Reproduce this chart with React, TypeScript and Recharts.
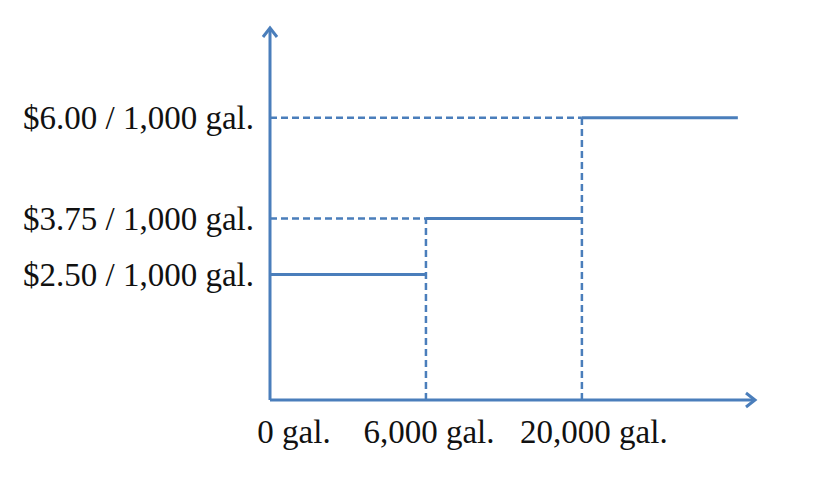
import React from "react";
import { LineChart, Line, XAxis, YAxis, ReferenceLine } from "recharts";

// Tier breakpoints (drawn as evenly spaced positions, like the schematic)
const usageLabels = ["0 gal.", "6,000 gal.", "20,000 gal."];
const tierStart = [0, 1, 2];
const tierEnd = [1, 2, 3];
const rates = [2.5, 3.75, 6.0];
const rateLabels = ["$2.50 / 1,000 gal.", "$3.75 / 1,000 gal.", "$6.00 / 1,000 gal."];

const BLUE = "#4a7ebb";
const FONT = "'Liberation Serif', 'Times New Roman', serif";
const Y_DOMAIN = [-0.3, 8];
// horizontal nudge for each x label (the original labels sit in a text box, not centred on the ticks)
const LABEL_SHIFT = [24, 3, 12];

function UsageTick(props: any) {
  const { x, y, payload, index } = props;
  return (
    <text
      x={x + (LABEL_SHIFT[index] ?? 0)}
      y={y}
      dy="0.71em"
      textAnchor="middle"
      fontSize={33}
      fontFamily={FONT}
      fill="#111"
    >
      {usageLabels[payload.value] ?? ""}
    </text>
  );
}

export default function App() {
  const yTick = { fontSize: 33, fill: "#111", fontFamily: FONT };
  const dashed = { stroke: BLUE, strokeWidth: 2.5, strokeDasharray: "7 4" };

  return (
    <div style={{ position: "absolute", left: 0, top: 0, width: 814, height: 480, background: "#fff" }}>
      <style>{"body{margin:0}"}</style>
      {/* arrowhead used by both axis lines */}
      <svg width={0} height={0} style={{ position: "absolute" }}>
        <defs>
          <marker
            id="axisArrow"
            viewBox="0 0 20 20"
            refX={14}
            refY={10}
            markerWidth={20}
            markerHeight={20}
            markerUnits="userSpaceOnUse"
            orient="auto-start-reverse"
          >
            <path d="M5,3 L14,10 L5,17" fill="none" stroke={BLUE} strokeWidth={3} strokeLinejoin="miter" />
          </marker>
        </defs>
      </svg>
      <LineChart width={814} height={480} margin={{ top: 28, right: 59, bottom: 0, left: 0 }}>
        <XAxis
          dataKey="x"
          type="number"
          domain={[0, 3.11]}
          ticks={tierStart}
          axisLine={{ stroke: BLUE, strokeWidth: 3, markerEnd: "url(#axisArrow)" }}
          tickLine={false}
          tickSize={0}
          tickMargin={20}
          tick={<UsageTick />}
          height={80}
          interval={0}
          allowDataOverflow
        />
        <YAxis
          type="number"
          domain={Y_DOMAIN}
          ticks={rates}
          tickFormatter={(v: number) => rateLabels[rates.indexOf(v)] ?? ""}
          axisLine={{ stroke: BLUE, strokeWidth: 3, markerStart: "url(#axisArrow)" }}
          tickLine={false}
          tickSize={0}
          tickMargin={16}
          tick={yTick}
          width={270}
          interval={0}
          allowDataOverflow
        />

        {/* dashed guides: from the y axis to each breakpoint, and down from each breakpoint */}
        {rates.slice(1).map((r, i) => (
          <ReferenceLine
            key={`h-${i}`}
            segment={[
              { x: 0, y: r },
              { x: tierStart[i + 1], y: r },
            ]}
            {...dashed}
            ifOverflow="visible"
          />
        ))}
        {rates.slice(1).map((r, i) => (
          <ReferenceLine
            key={`v-${i}`}
            segment={[
              { x: tierStart[i + 1], y: Y_DOMAIN[0] },
              { x: tierStart[i + 1], y: r },
            ]}
            {...dashed}
            ifOverflow="visible"
          />
        ))}

        {/* solid rate for each tier */}
        {rates.map((r, i) => (
          <Line
            key={`tier-${i}`}
            data={[
              { x: tierStart[i], y: r },
              { x: tierEnd[i], y: r },
            ]}
            dataKey="y"
            type="linear"
            stroke={BLUE}
            strokeWidth={3}
            dot={false}
            activeDot={false}
            isAnimationActive={false}
          />
        ))}
      </LineChart>
    </div>
  );
}
